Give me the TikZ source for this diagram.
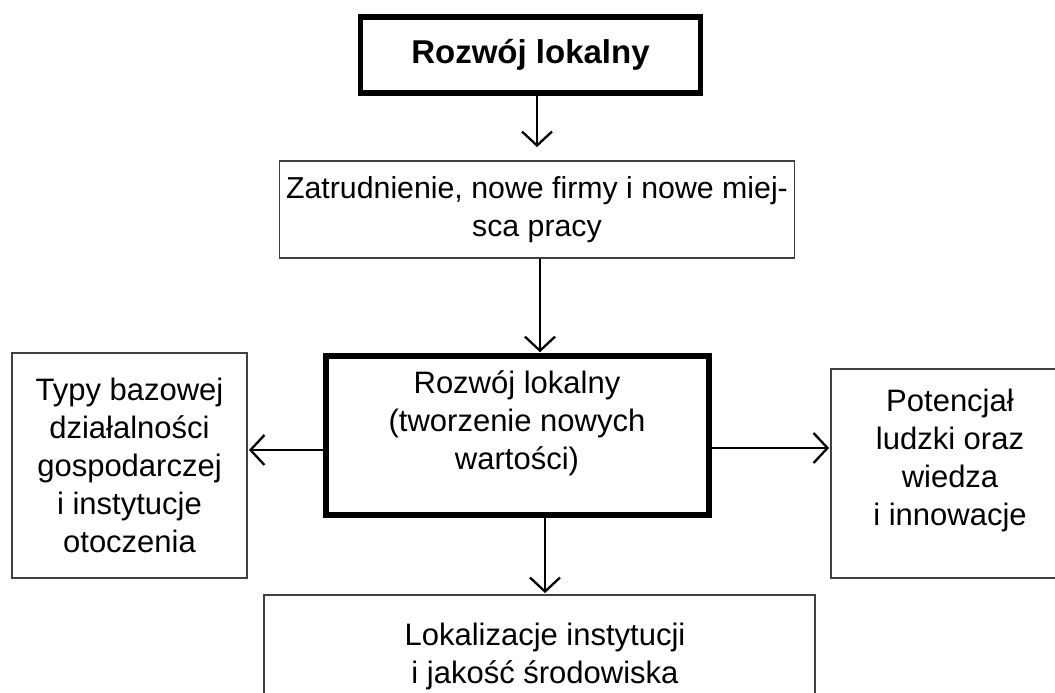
\documentclass[tikz,border=0pt]{standalone}
\usepackage{fontspec}
\setmainfont{Liberation Sans}
\usetikzlibrary{arrows.meta}
\begin{document}
\begin{tikzpicture}[x=1pt,y=-1pt,
  thinbox/.style={draw=black!75, line width=1.8pt, rectangle, inner sep=0pt, align=center, font=\fontsize{31}{38}\selectfont},
  thickbox/.style={draw=black, line width=5.5pt, rectangle, inner sep=0pt, align=center, font=\fontsize{31}{38}\selectfont},
  txt/.style={align=center, font=\fontsize{31}{38}\selectfont, inner sep=0pt},
  arr/.style={-{Straight Barb[length=14pt,width=30pt,line width=2.3pt]}, line width=2.2pt}]
\useasboundingbox (0,0) rectangle (1055,693);
\clip (0,0) rectangle (1055,693);
\fill[white] (0,0) rectangle (1055,693);

\node[thickbox, minimum width=340pt, minimum height=76pt, font=\fontsize{33}{38}\selectfont\bfseries] (top) at (530.5,55) {Rozwój lokalny};
\node[thinbox, minimum width=515pt, minimum height=97pt, font=\fontsize{30.3}{38}\selectfont] (zat) at (537,209.5) {Zatrudnienie, nowe firmy i nowe miej-\\sca pracy};
\node[thickbox, minimum width=383pt, minimum height=159pt] (mid) at (517.5,435.5) {};
\node[txt] (midt) at (517,423) {Rozwój lokalny\\(tworzenie nowych\\wartości)};
\node[thinbox, minimum width=235pt, minimum height=225pt] (left) at (129.5,465.5) {Typy bazowej\\działalności\\gospodarczej\\i instytucje\\otoczenia};
\node[thinbox, minimum width=238pt, minimum height=209pt] (right) at (950,473.5) {};
\node[txt] (rightt) at (950,460) {Potencjał\\ludzki oraz\\wiedza\\i innowacje};
\node[thinbox, minimum width=551pt, minimum height=124pt] (bot) at (539.5,657) {};
\node[txt] (bott) at (545,656) {Lokalizacje instytucji\\i jakość środowiska};

\coordinate (c1) at (537,0);
\coordinate (c2) at (540,0);
\coordinate (c3) at (0,450);
\coordinate (c4) at (0,448);
\coordinate (c5) at (545,0);

\draw[arr] (top.south -| c1) -- ([yshift=13pt]zat.north -| c1);
\draw[arr] (zat.south -| c2) -- ([yshift=1pt]mid.north -| c2);
\draw[arr] (mid.west |- c3) -- ([xshift=1pt]left.east |- c3);
\draw[arr] (mid.east |- c4) -- ([xshift=-1pt]right.west |- c4);
\draw[arr] (mid.south -| c5) -- ([yshift=1pt]bot.north -| c5);
\end{tikzpicture}
\end{document}
